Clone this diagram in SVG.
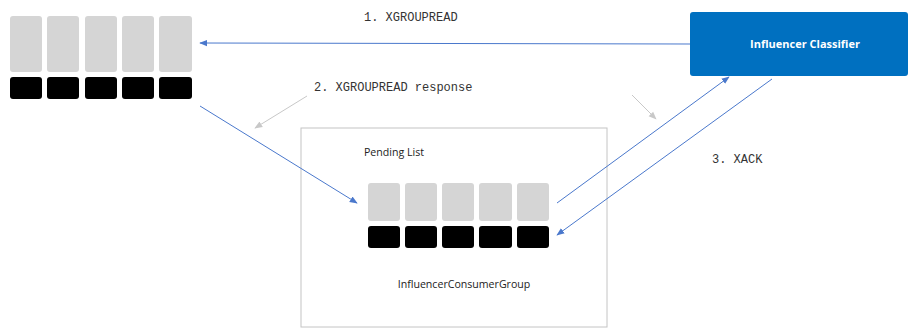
<svg xmlns="http://www.w3.org/2000/svg" width="911" height="328" viewBox="0 0 911 328">
<defs>
<style>
.g{fill:#d5d5d5}
.k{fill:#000}
.blue{stroke:#4a78cc;stroke-width:1;fill:none}
.grey{stroke:#c8c8c8;stroke-width:1;fill:none}
.mono{font-family:"Liberation Mono",monospace;font-size:12px;fill:#333}
.sans{font-family:"Open Sans","Liberation Sans",sans-serif;font-size:10.6px;fill:#222}
</style>
<marker id="ab" viewBox="0 0 10 10" refX="9" refY="5" markerWidth="8" markerHeight="8" orient="auto-start-reverse" markerUnits="userSpaceOnUse"><path d="M0,1 L10,5 L0,9 z" fill="#4a78cc"/></marker>
<marker id="ag" viewBox="0 0 10 10" refX="9" refY="5" markerWidth="8" markerHeight="8" orient="auto" markerUnits="userSpaceOnUse"><path d="M0,1 L10,5 L0,9 z" fill="#c8c8c8"/></marker>
</defs>
<rect width="911" height="328" fill="#fff"/>
<g id="stream">
<rect class="g" x="10" y="16" width="32" height="56" rx="3"/>
<rect class="g" x="47" y="16" width="32" height="56" rx="3"/>
<rect class="g" x="85" y="16" width="32" height="56" rx="3"/>
<rect class="g" x="122" y="16" width="32" height="56" rx="3"/>
<rect class="g" x="159" y="16" width="33" height="56" rx="3"/>
<rect class="k" x="10" y="77" width="32" height="22" rx="3"/>
<rect class="k" x="47" y="77" width="32" height="22" rx="3"/>
<rect class="k" x="85" y="77" width="32" height="22" rx="3"/>
<rect class="k" x="122" y="77" width="32" height="22" rx="3"/>
<rect class="k" x="159" y="77" width="33" height="22" rx="3"/>
</g>
<g id="classifier">
<rect x="690" y="12" width="218" height="64" rx="3" fill="#0070c0"/>
<text x="805" y="48" text-anchor="middle" font-family="'Open Sans','Liberation Sans',sans-serif" font-size="11" font-weight="bold" fill="#fff">Influencer Classifier</text>
</g>
<g id="group">
<rect x="301" y="128" width="306" height="199" fill="none" stroke="#c4c4c4" stroke-width="1"/>
<text class="sans" x="364" y="156">Pending List</text>
<rect class="g" x="368" y="183" width="32" height="38" rx="3"/>
<rect class="g" x="405" y="183" width="32" height="38" rx="3"/>
<rect class="g" x="442" y="183" width="32" height="38" rx="3"/>
<rect class="g" x="479" y="183" width="33" height="38" rx="3"/>
<rect class="g" x="517" y="183" width="32" height="38" rx="3"/>
<rect class="k" x="368" y="226" width="32" height="22" rx="3"/>
<rect class="k" x="405" y="226" width="32" height="22" rx="3"/>
<rect class="k" x="442" y="226" width="32" height="22" rx="3"/>
<rect class="k" x="479" y="226" width="33" height="22" rx="3"/>
<rect class="k" x="517" y="226" width="32" height="22" rx="3"/>
<text class="sans" x="464" y="288" text-anchor="middle">InfluencerConsumerGroup</text>
</g>
<g id="connectors">
<line class="blue" x1="690" y1="44" x2="200" y2="43" marker-end="url(#ab)"/>
<line class="blue" x1="200" y1="106" x2="357" y2="203" marker-end="url(#ab)"/>
<line class="blue" x1="557" y1="203" x2="729" y2="77" marker-end="url(#ab)"/>
<line class="blue" x1="772" y1="79" x2="557" y2="235" marker-end="url(#ab)"/>
<line class="grey" x1="307" y1="96" x2="255" y2="128" marker-end="url(#ag)"/>
<line class="grey" x1="632" y1="95" x2="656" y2="119" marker-end="url(#ag)"/>
</g>
<g id="labels">
<text class="mono" x="364" y="21">1. XGROUPREAD</text>
<text class="mono" x="314" y="91">2. XGROUPREAD response</text>
<text class="mono" x="712" y="163">3. XACK</text>
</g>
</svg>
